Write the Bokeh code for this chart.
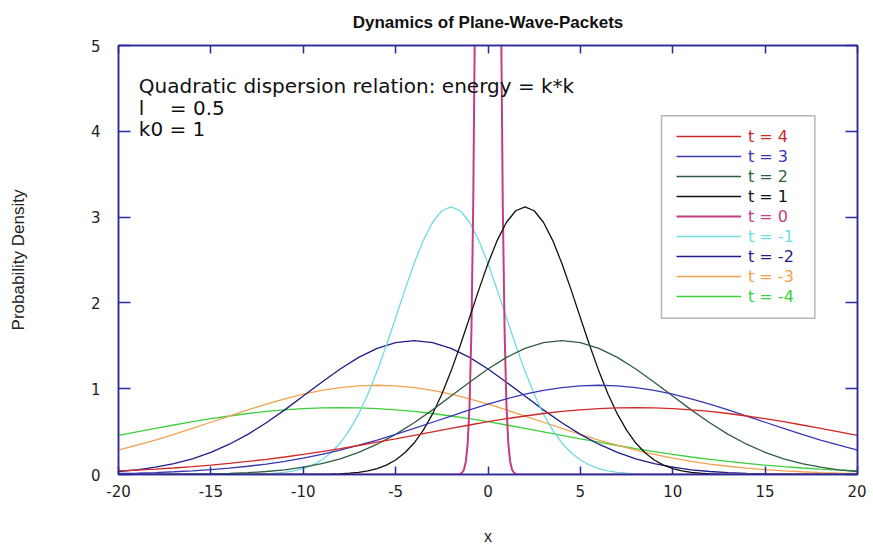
from bokeh.plotting import figure
from bokeh.models import (Range1d, LinearAxis, Legend, LegendItem, Label,
                          BoxAnnotation, FixedTicker, CustomLabelingPolicy)
from bokeh.embed import file_html
from bokeh.resources import INLINE

# ---------------- data ----------------
x_wide = [-20, -19, -18, -17, -16, -15, -14, -13, -12, -11, -10, -9, -8, -7, -6,
          -5, -4, -3, -2, -1, 0, 1, 2, 3, 4, 5, 6, 7, 8, 9, 10, 11, 12, 13, 14,
          15, 16, 17, 18, 19, 20]

dens_t4 = [0.042, 0.052, 0.063, 0.076, 0.092, 0.109, 0.129, 0.152, 0.176, 0.204,
           0.234, 0.267, 0.301, 0.338, 0.377, 0.416, 0.457, 0.498, 0.538, 0.577,
           0.615, 0.650, 0.682, 0.711, 0.735, 0.754, 0.768, 0.777, 0.780, 0.777,
           0.768, 0.754, 0.735, 0.711, 0.682, 0.650, 0.615, 0.577, 0.538, 0.498,
           0.457]
dens_t3 = [0.012, 0.017, 0.023, 0.032, 0.043, 0.056, 0.074, 0.096, 0.122, 0.154,
           0.192, 0.235, 0.285, 0.341, 0.402, 0.468, 0.537, 0.609, 0.681, 0.752,
           0.820, 0.882, 0.936, 0.980, 1.013, 1.033, 1.040, 1.033, 1.013, 0.980,
           0.936, 0.882, 0.820, 0.752, 0.681, 0.609, 0.537, 0.468, 0.402, 0.341,
           0.285]
dens_t2 = [0.000, 0.001, 0.001, 0.002, 0.004, 0.007, 0.013, 0.021, 0.035, 0.055,
           0.085, 0.127, 0.183, 0.258, 0.353, 0.468, 0.603, 0.753, 0.914, 1.076,
           1.230, 1.365, 1.470, 1.537, 1.560, 1.537, 1.470, 1.365, 1.230, 1.076,
           0.914, 0.753, 0.603, 0.468, 0.353, 0.258, 0.183, 0.127, 0.085, 0.055,
           0.035]
dens_tm2 = [0.035, 0.055, 0.085, 0.127, 0.183, 0.258, 0.353, 0.468, 0.603, 0.753,
            0.914, 1.076, 1.230, 1.365, 1.470, 1.537, 1.560, 1.537, 1.470, 1.365,
            1.230, 1.076, 0.914, 0.753, 0.603, 0.468, 0.353, 0.258, 0.183, 0.127,
            0.085, 0.055, 0.035, 0.021, 0.013, 0.007, 0.004, 0.002, 0.001, 0.001,
            0.000]
dens_tm3 = [0.285, 0.341, 0.402, 0.468, 0.537, 0.609, 0.681, 0.752, 0.820, 0.882,
            0.936, 0.980, 1.013, 1.033, 1.040, 1.033, 1.013, 0.980, 0.936, 0.882,
            0.820, 0.752, 0.681, 0.609, 0.537, 0.468, 0.402, 0.341, 0.285, 0.235,
            0.192, 0.154, 0.122, 0.096, 0.074, 0.056, 0.043, 0.032, 0.023, 0.017,
            0.012]
dens_tm4 = [0.457, 0.498, 0.538, 0.577, 0.615, 0.650, 0.682, 0.711, 0.735, 0.754,
            0.768, 0.777, 0.780, 0.777, 0.768, 0.754, 0.735, 0.711, 0.682, 0.650,
            0.615, 0.577, 0.538, 0.498, 0.457, 0.416, 0.377, 0.338, 0.301, 0.267,
            0.234, 0.204, 0.176, 0.152, 0.129, 0.109, 0.092, 0.076, 0.063, 0.052,
            0.042]

x_t1 = [-20, -10, -9.5, -9, -8.5, -8, -7.5, -7, -6.5, -6, -5.5, -5, -4.5, -4,
        -3.5, -3, -2.5, -2, -1.5, -1, -0.5, 0, 0.5, 1, 1.5, 2, 2.5, 3, 3.5, 4,
        4.5, 5, 5.5, 6, 6.5, 7, 7.5, 8, 8.5, 9, 9.5, 10, 10.5, 11, 11.5, 12,
        12.5, 13, 13.5, 14, 20]
dens_t1 = [0.000, 0.001, 0.001, 0.002, 0.004, 0.008, 0.015, 0.025, 0.043, 0.069,
           0.110, 0.169, 0.253, 0.367, 0.517, 0.706, 0.936, 1.205, 1.506, 1.827,
           2.152, 2.460, 2.729, 2.940, 3.074, 3.120, 3.074, 2.940, 2.729, 2.460,
           2.152, 1.827, 1.506, 1.205, 0.936, 0.706, 0.517, 0.367, 0.253, 0.169,
           0.110, 0.069, 0.043, 0.025, 0.015, 0.008, 0.004, 0.002, 0.001, 0.001,
           0.000]
x_tm1 = [-20, -14, -13.5, -13, -12.5, -12, -11.5, -11, -10.5, -10, -9.5, -9,
         -8.5, -8, -7.5, -7, -6.5, -6, -5.5, -5, -4.5, -4, -3.5, -3, -2.5, -2,
         -1.5, -1, -0.5, 0, 0.5, 1, 1.5, 2, 2.5, 3, 3.5, 4, 4.5, 5, 5.5, 6, 6.5,
         7, 7.5, 8, 8.5, 9, 9.5, 10, 20]
dens_tm1 = [0.000, 0.001, 0.001, 0.002, 0.004, 0.008, 0.015, 0.025, 0.043, 0.069,
            0.110, 0.169, 0.253, 0.367, 0.517, 0.706, 0.936, 1.205, 1.506, 1.827,
            2.152, 2.460, 2.729, 2.940, 3.074, 3.120, 3.074, 2.940, 2.729, 2.460,
            2.152, 1.827, 1.506, 1.205, 0.936, 0.706, 0.517, 0.367, 0.253, 0.169,
            0.110, 0.069, 0.043, 0.025, 0.015, 0.008, 0.004, 0.002, 0.001, 0.001,
            0.000]

x_t0 = [-20, -1.6, -1.5, -1.4, -1.3, -1.2, -1.1, -1.0, -0.9, -0.8, -0.7, -0.6,
        -0.5, -0.4, -0.3, -0.2, -0.1, 0.0, 0.1, 0.2, 0.3, 0.4, 0.5, 0.6, 0.7,
        0.8, 0.9, 1.0, 1.1, 1.2, 1.3, 1.4, 1.5, 1.6, 20]
dens_t0 = [0.000, 0.002, 0.007, 0.021, 0.058, 0.15, 0.36, 0.80, 1.65, 3.14, 5.55,
           9.10, 13.8, 19.5, 25.4, 30.8, 34.5, 35.8, 34.5, 30.8, 25.4, 19.5, 13.8,
           9.10, 5.55, 3.14, 1.65, 0.80, 0.36, 0.15, 0.058, 0.021, 0.007, 0.002,
           0.000]

legend_labels = ["t = 4", "t = 3", "t = 2", "t = 1", "t = 0",
                 "t = -1", "t = -2", "t = -3", "t = -4"]
x_ticks = [-20, -15, -10, -5, 0, 5, 10, 15, 20]
y_ticks = [0, 1, 2, 3, 4, 5]

# ---------------- styling ----------------
FRAME = "#2a2a9c"
colors = {"t = 4": "#d02828", "t = 3": "#3838b4", "t = 2": "#2f5e40",
          "t = 1": "#111111", "t = 0": "#c43c84", "t = -1": "#6fdcdf",
          "t = -2": "#1e1e8a", "t = -3": "#f2a24e", "t = -4": "#3ccf3c"}
series = {"t = 4": (x_wide, dens_t4), "t = 3": (x_wide, dens_t3),
          "t = 2": (x_wide, dens_t2), "t = 1": (x_t1, dens_t1),
          "t = 0": (x_t0, dens_t0), "t = -1": (x_tm1, dens_tm1),
          "t = -2": (x_wide, dens_tm2), "t = -3": (x_wide, dens_tm3),
          "t = -4": (x_wide, dens_tm4)}

p = figure(width=866, height=548, output_backend="svg", toolbar_location=None,
           x_range=Range1d(-20, 20), y_range=Range1d(0, 5),
           min_border_left=118, min_border_right=9, min_border_top=45,
           min_border_bottom=74, background_fill_color="white",
           border_fill_color="white")
p.grid.visible = False
p.outline_line_color = FRAME
p.outline_line_width = 1.5

p.title.text = "Dynamics of Plane-Wave-Packets"
p.title.align = "center"
p.title.text_font = "Liberation Sans"
p.title.text_font_size = "17px"
p.title.text_font_style = "bold"
p.title.text_color = "#111111"
p.title.standoff = 19

def style_axis(ax, tick_in):
    ax.axis_line_color = FRAME
    ax.axis_line_width = 1.5
    ax.major_tick_line_color = FRAME
    ax.major_tick_line_width = 1.5
    ax.major_tick_in = tick_in
    ax.major_tick_out = 0
    ax.minor_tick_line_color = None
    ax.major_label_text_font = "DejaVu Sans"
    ax.major_label_text_font_size = "15px"
    ax.major_label_text_color = "#222222"
    ax.axis_label_text_font = "Liberation Sans"
    ax.axis_label_text_font_style = "normal"
    ax.axis_label_text_color = "#222222"

xa = p.xaxis[0]
xa.ticker = FixedTicker(ticks=x_ticks)
xa.major_label_overrides = {t: str(t) for t in x_ticks}
style_axis(xa, 8)
xa.major_label_standoff = 10
xa.axis_label = "x"
xa.axis_label_text_font_size = "16px"
xa.axis_label_standoff = 28

ya = p.yaxis[0]
ya.ticker = FixedTicker(ticks=y_ticks)
ya.major_label_overrides = {t: str(t) for t in y_ticks}
style_axis(ya, 12)
ya.major_label_standoff = 18
ya.axis_label = "Probability Density"
ya.axis_label_text_font_size = "17px"
ya.axis_label_standoff = 60

# mirrored tick marks on the top and right frame edges (labels suppressed)
hide_all = CustomLabelingPolicy(
    code="for (let i = 0; i < indices.size; i++) { indices.unset(i) } return indices")

top_ax = LinearAxis(ticker=FixedTicker(ticks=x_ticks))
style_axis(top_ax, 8)
top_ax.major_label_text_font_size = "1px"
top_ax.major_label_standoff = 0
top_ax.major_label_policy = hide_all
p.add_layout(top_ax, "above")

right_ax = LinearAxis(ticker=FixedTicker(ticks=y_ticks))
style_axis(right_ax, 12)
right_ax.major_label_text_font_size = "1px"
right_ax.major_label_standoff = 0
right_ax.major_label_policy = hide_all
p.add_layout(right_ax, "right")

# curves (drawn from t=-4 up to t=4)
renderers = {}
for lab in reversed(legend_labels):
    xs, ys = series[lab]
    lw = 2.0 if lab == "t = 0" else 1.3
    renderers[lab] = p.line(xs, ys, line_color=colors[lab], line_width=lw)

# text annotations
txt_font = "DejaVu Sans"
p.add_layout(Label(x=-18.9, y=4.53, text="Quadratic dispersion relation: energy = k*k",
                   text_font=txt_font, text_font_size="20px", text_baseline="middle",
                   text_color="#111111"))
p.add_layout(Label(x=-18.9, y=4.277, text="l\u00a0\u00a0\u00a0\u00a0= 0.5",
                   text_font=txt_font, text_font_size="20px", text_baseline="middle",
                   text_color="#111111"))
p.add_layout(Label(x=-18.9, y=4.026, text="k0 = 1",
                   text_font=txt_font, text_font_size="20px", text_baseline="middle",
                   text_color="#111111"))

# legend: box + one single-item legend per row (each with its own text colour)
p.add_layout(BoxAnnotation(left=9.39, right=17.69, top=4.18, bottom=1.82,
                           fill_color="white", fill_alpha=1.0,
                           line_color="#111111", line_width=1.5))
for k, lab in enumerate(legend_labels):
    leg = Legend(items=[LegendItem(label=lab, renderers=[renderers[lab]])],
                 location=(558, 328 - 20 * k), orientation="vertical",
                 glyph_width=65, glyph_height=20, label_height=20,
                 label_standoff=7, padding=0, margin=0, spacing=0,
                 border_line_alpha=0, background_fill_alpha=0,
                 label_text_font="DejaVu Sans", label_text_font_size="16px",
                 label_text_color=colors[lab])
    p.add_layout(leg)

open("out.html", "w").write(file_html(p, INLINE))
